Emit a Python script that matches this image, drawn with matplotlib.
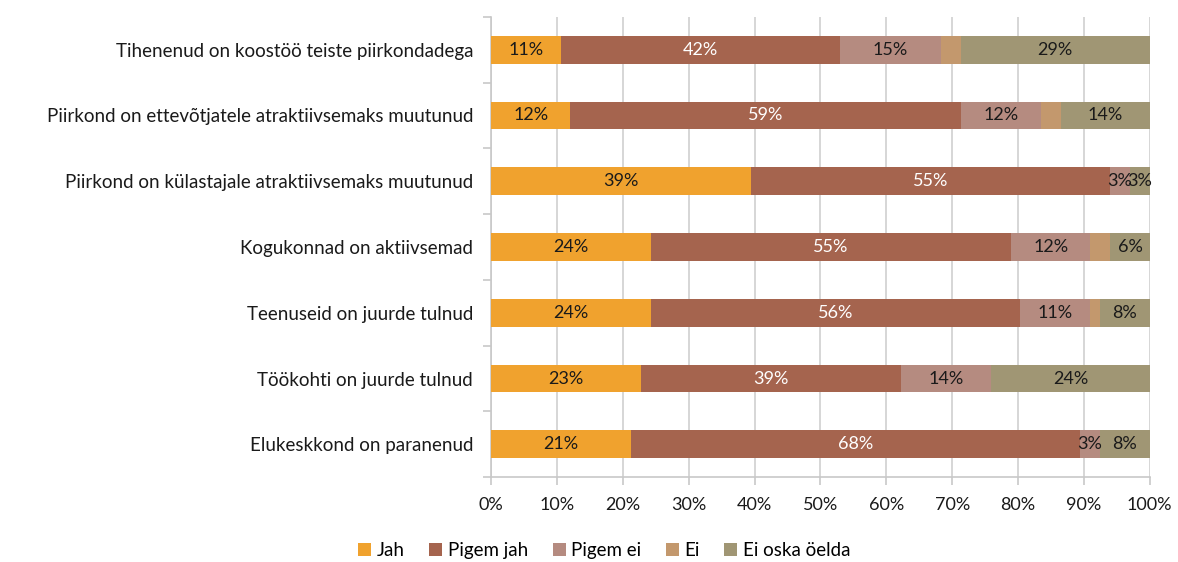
import matplotlib
matplotlib.use("Agg")
import matplotlib.pyplot as plt
import numpy as np

categories = [
    "Tihenenud on koostöö teiste piirkondadega",
    "Piirkond on ettevõtjatele atraktiivsemaks muutunud",
    "Piirkond on külastajale atraktiivsemaks muutunud",
    "Kogukonnad on aktiivsemad",
    "Teenuseid on juurde tulnud",
    "Töökohti on juurde tulnud",
    "Elukeskkond on paranenud",
]
series = ["Jah", "Pigem jah", "Pigem ei", "Ei", "Ei oska öelda"]
jah = [10.6, 12.0, 39.4, 24.3, 24.3, 22.8, 21.2]
pigem_jah = [42.4, 59.3, 54.6, 54.6, 56.0, 39.4, 68.2]
pigem_ei = [15.3, 12.2, 3.0, 12.1, 10.7, 13.7, 3.0]
ei = [3.0, 3.0, 0.0, 3.0, 1.4, 0.0, 0.0]
ei_oska = [28.7, 13.5, 3.0, 6.0, 7.6, 24.1, 7.6]
colors = ["#F0A22E", "#A5644E", "#B58B80", "#C3986D", "#A09674"]
label_colors = ["#1a1a1a", "white", "#1a1a1a", None, "#1a1a1a"]

plt.rcParams['font.family'] = ['Lato', 'DejaVu Sans']

fig = plt.figure(figsize=(11.78, 5.62), dpi=100)
ax = fig.add_axes([0.417, 0.151, 0.559, 0.819])

data = [jah, pigem_jah, pigem_ei, ei, ei_oska]
y = np.arange(len(categories))
left = np.zeros(len(categories))
for vals, name, col, lc in zip(data, series, colors, label_colors):
    vals = np.array(vals)
    ax.barh(y, vals, left=left, height=0.42, color=col, label=name, zorder=3)
    if lc is not None:
        for yi, (l, v) in enumerate(zip(left, vals)):
            if v > 0:
                ax.text(l + v / 2, yi, f"{int(round(v))}%", ha="center", va="center",
                        color=lc, fontsize=13, zorder=4)
    left += vals

ax.set_xlim(0, 100)
ax.set_ylim(len(categories) - 0.5, -0.5)
ax.set_xticks(np.arange(0, 101, 10))
ax.set_xticklabels([f"{t}%" for t in range(0, 101, 10)], fontsize=13, color="#1a1a1a")
ax.set_yticks(y)
ax.set_yticklabels(categories, fontsize=13.5, color="#1a1a1a")
ax.tick_params(axis="y", length=0, pad=13)
ax.set_yticks(np.arange(-0.5, len(categories), 1), minor=True)
ax.tick_params(axis="y", which="minor", length=6, color="#c8c8c8", width=1.2)
ax.tick_params(axis="x", length=6, color="#c8c8c8", width=1.2, pad=8)
ax.grid(axis="x", color="#d0d0d0", linewidth=1.2, zorder=0)
for s in ["top", "right"]:
    ax.spines[s].set_visible(False)
for s in ["left", "bottom"]:
    ax.spines[s].set_color("#c8c8c8")
    ax.spines[s].set_linewidth(1.2)

leg = fig.legend(loc="lower center", bbox_to_anchor=(0.513, -0.025), ncol=5, frameon=False,
                 fontsize=13.5, handlelength=0.7, handleheight=0.7, handletextpad=0.3,
                 columnspacing=1.3)

fig.savefig("out.png", dpi=100)
